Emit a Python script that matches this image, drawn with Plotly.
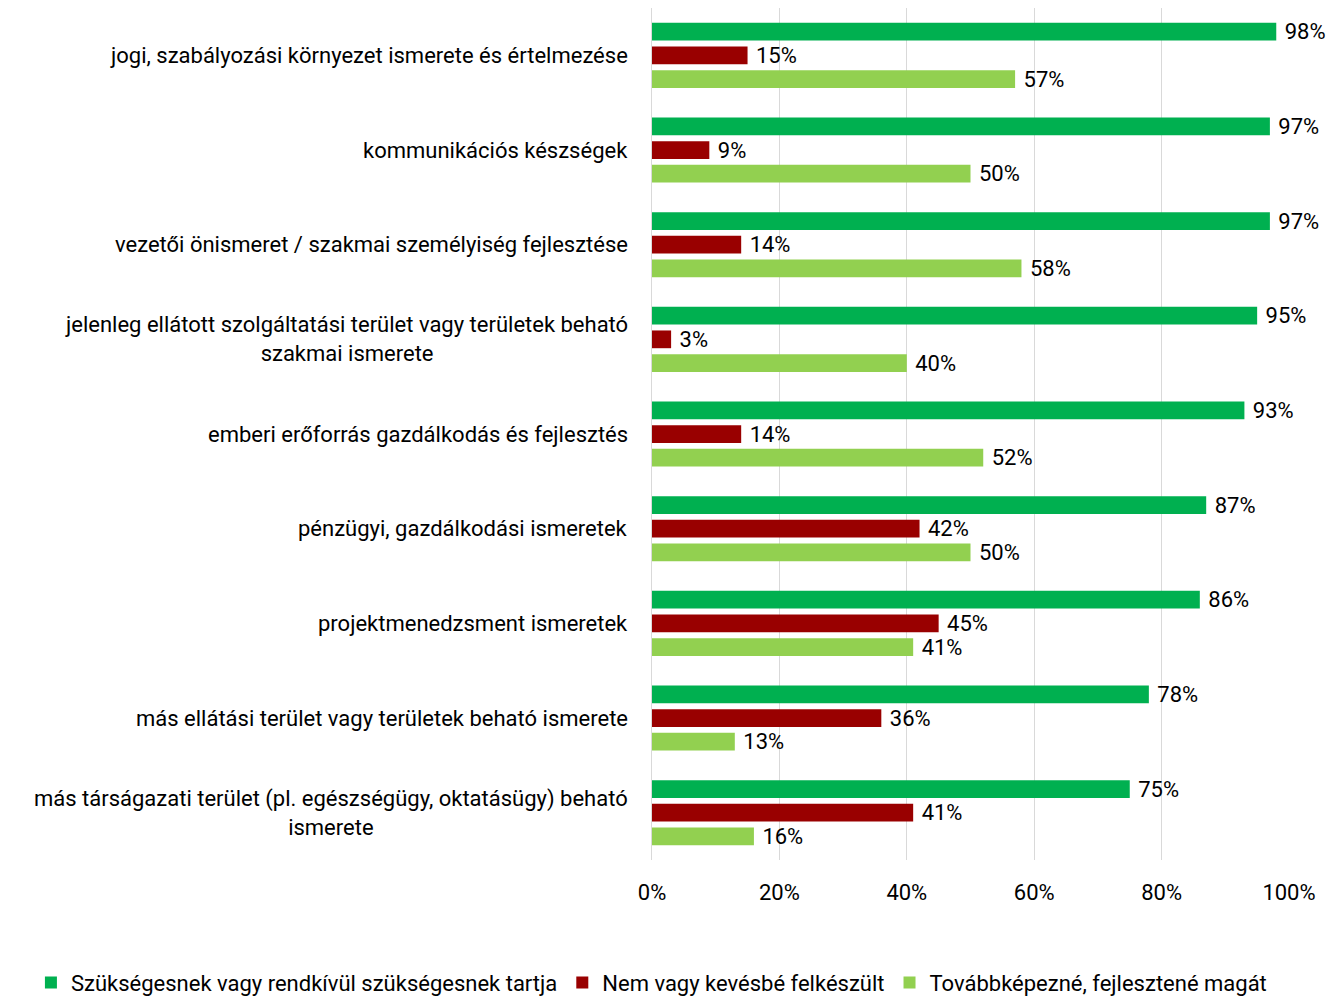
import plotly.graph_objects as go

categories = [
    "jogi, szabályozási környezet ismerete és értelmezése",
    "kommunikációs készségek",
    "vezetői önismeret / szakmai személyiség fejlesztése",
    "jelenleg ellátott szolgáltatási terület vagy területek beható<br>szakmai ismerete",
    "emberi erőforrás gazdálkodás és fejlesztés",
    "pénzügyi, gazdálkodási ismeretek",
    "projektmenedzsment ismeretek",
    "más ellátási terület vagy területek beható ismerete",
    "más társágazati terület (pl. egészségügy, oktatásügy) beható<br>ismerete",
]
needed = [98, 97, 97, 95, 93, 87, 86, 78, 75]
unprepared = [15, 9, 14, 3, 14, 42, 45, 36, 41]
training = [57, 50, 58, 40, 52, 50, 41, 13, 16]

series = [
    ("Szükségesnek vagy rendkívül szükségesnek tartja", needed, "#00B050"),
    ("Nem vagy kevésbé felkészült", unprepared, "#990000"),
    ("Továbbképezné, fejlesztené magát", training, "#92D050"),
]
x_ticks = [0, 20, 40, 60, 80, 100]

FONT = "Roboto, sans-serif"
GAP = "\u00a0"  # small gap between bar end and its label

fig = go.Figure()
for name, vals, color in series:
    fig.add_trace(go.Bar(
        y=categories, x=vals, name=name, orientation="h",
        marker=dict(color=color, line=dict(width=0)),
        text=[f"{GAP}{v}%" for v in vals], textposition="outside",
        textfont=dict(size=22, color="#000000", family=FONT),
        cliponaxis=False, constraintext="none",
    ))

# category labels as annotations so the wrapped lines are centred
for cat in categories:
    fig.add_annotation(
        x=0, xref="paper", y=cat, yref="y", text=cat, showarrow=False,
        xanchor="right", xshift=-22, align="center",
        font=dict(size=22, color="#000000", family=FONT),
    )

fig.update_layout(
    width=1328, height=988,
    margin=dict(l=644, r=47, t=0, b=136, autoexpand=False),
    paper_bgcolor="white", plot_bgcolor="white",
    barmode="group", bargap=0.25, bargroupgap=0.25,
    font=dict(family=FONT, size=22, color="#000000"),
    showlegend=True,
    legend=dict(
        orientation="h", x=-0.975, xanchor="left", y=-0.144, yanchor="middle",
        font=dict(size=22), traceorder="normal",
    ),
    xaxis=dict(
        range=[0, 100], tickvals=x_ticks, ticktext=[f"{t}%" for t in x_ticks],
        showgrid=True, gridcolor="#D9D9D9", gridwidth=1, zeroline=False,
        showline=False, ticks="", ticklabelstandoff=17,
        tickfont=dict(size=22),
    ),
    yaxis=dict(
        autorange="reversed", showticklabels=False, showgrid=False,
        showline=True, linecolor="#D9D9D9", linewidth=1, ticks="",
    ),
)

fig.write_html("out.html")
